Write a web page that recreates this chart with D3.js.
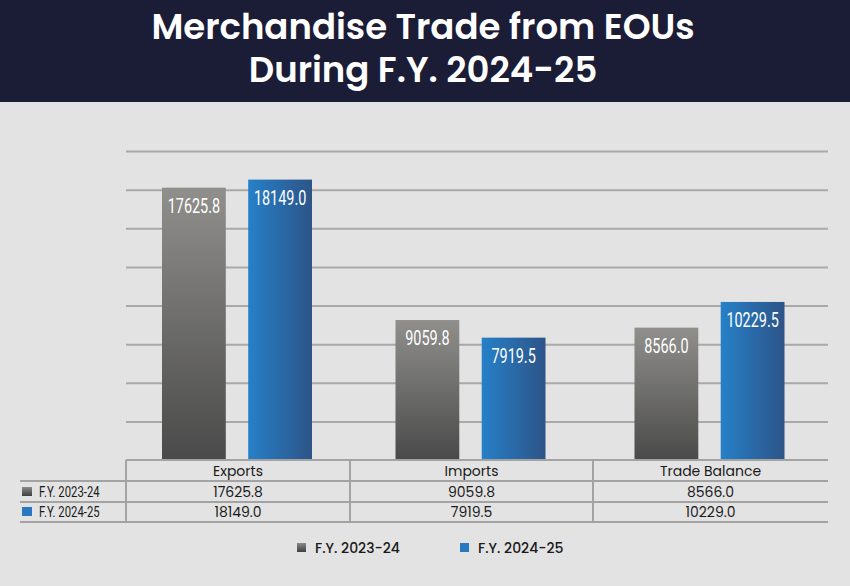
<!DOCTYPE html>
<html><head><meta charset="utf-8">
<script src="https://cdn.jsdelivr.net/npm/d3@7"></script>
<style>body{margin:0;background:#e3e3e3;} svg{display:block}</style>
</head><body><svg id="c" width="850" height="586"></svg>
<script>
const titleLines = ["Merchandise Trade from EOUs", "During F.Y. 2024-25"];
const categories = ["Exports", "Imports", "Trade Balance"];
const seriesNames = ["F.Y. 2023-24", "F.Y. 2024-25"];
const fy2023_24 = [17625.8, 9059.8, 8566.0];
const fy2024_25 = [18149.0, 7919.5, 10229.5];
const tableFy2023_24 = ["17625.8", "9059.8", "8566.0"];
const tableFy2024_25 = ["18149.0", "7919.5", "10229.0"];
const gridTicks = [2500, 5000, 7500, 10000, 12500, 15000, 17500, 20000];

const W = 850, H = 586;
const L = 126, R = 828, base = 460, plotTop = 151;
const colEdges = [126, 350, 593, 828];
const svg = d3.select("#c");
const defs = svg.append("defs");
const gg = defs.append("linearGradient").attr("id","gGray").attr("x1",0).attr("y1",0).attr("x2",0).attr("y2",1);
gg.append("stop").attr("offset","0%").attr("stop-color","#908f8c");
gg.append("stop").attr("offset","100%").attr("stop-color","#4a4a4a");
const gb = defs.append("linearGradient").attr("id","gBlue").attr("x1",0).attr("y1",0).attr("x2",1).attr("y2",0);
gb.append("stop").attr("offset","0%").attr("stop-color","#2680c8");
gb.append("stop").attr("offset","100%").attr("stop-color","#2d5488");
const sg = defs.append("linearGradient").attr("id","sGray").attr("x1",0).attr("y1",0).attr("x2",0).attr("y2",1);
sg.append("stop").attr("offset","0%").attr("stop-color","#8a8a8a");
sg.append("stop").attr("offset","100%").attr("stop-color","#3f3f3f");
const fills = ["url(#gGray)", "url(#gBlue)"];
const swatch = ["url(#sGray)", "#2a78c0"];

svg.append("rect").attr("width",W).attr("height",H).attr("fill","#e3e3e3");
svg.append("rect").attr("width",W).attr("height",102).attr("fill","#1b1c36");
const title = svg.append("text").attr("text-anchor","middle").attr("fill","#fff")
  .style("font-family","Poppins, Inter, 'Open Sans', sans-serif").style("font-weight",600).style("font-size","35.5px");
title.selectAll("tspan").data(titleLines).join("tspan")
  .attr("x",423).attr("y",(d,i)=>[38.5,81.5][i]).text(d=>d);

const y = d3.scaleLinear().domain([0,20000]).range([base, plotTop]);
const xCol = d3.scaleOrdinal().domain(categories).range(colEdges.slice(0,3));
const xColR = d3.scaleOrdinal().domain(categories).range(colEdges.slice(1));
const xc = c => (xCol(c) + xColR(c)) / 2;
const x1 = d3.scaleBand().domain(seriesNames).range([-76, 74]).paddingInner(0.26);

const grid = svg.append("g").attr("transform",`translate(${L},0)`)
  .call(d3.axisLeft(y).tickValues(gridTicks).tickSize(-(R-L)).tickFormat(""));
grid.select(".domain").remove();
grid.selectAll("line").attr("stroke","#a9a9a9").attr("stroke-width",2);

const series = [fy2023_24, fy2024_25];
const data = [];
categories.forEach((c,i)=>series.forEach((s,j)=>data.push({c, s:seriesNames[j], j, v:s[i]})));
const bars = svg.append("g");
bars.selectAll("rect").data(data).join("rect")
  .attr("x",d=>xc(d.c)+x1(d.s)).attr("width",x1.bandwidth())
  .attr("y",d=>y(d.v)).attr("height",d=>base-y(d.v)).attr("fill",d=>fills[d.j]);
bars.selectAll("text").data(data).join("text")
  .attr("transform",d=>`translate(${xc(d.c)+x1(d.s)+x1.bandwidth()/2},${y(d.v)+25}) scale(0.74,1)`)
  .attr("text-anchor","middle").attr("fill","#fff")
  .style("font-family","Roboto, sans-serif").style("font-weight",400).style("font-size","19.5px")
  .text(d=>d.v.toFixed(1));

// table
const tbl = svg.append("g");
const rowY = [460, 481, 502, 522];
const lineC = "#a3a3a3";
tbl.append("line").attr("x1",L).attr("x2",R).attr("y1",rowY[0]).attr("y2",rowY[0]).attr("stroke",lineC).attr("stroke-width",2);
[1,2,3].forEach(k=>tbl.append("line").attr("x1",20).attr("x2",R).attr("y1",rowY[k]).attr("y2",rowY[k]).attr("stroke",lineC).attr("stroke-width",2));
categories.forEach(c=>{ tbl.append("line").attr("x1",xCol(c)).attr("x2",xCol(c)).attr("y1",rowY[0]).attr("y2",rowY[3]).attr("stroke",lineC).attr("stroke-width",2); });
const tfont = "Poppins, Inter, 'Open Sans', sans-serif";
tbl.selectAll("text.h").data(categories).join("text").attr("class","h")
  .attr("x",c=>xc(c)).attr("y",476).attr("text-anchor","middle")
  .attr("fill","#1a1a1a").style("font-family",tfont).style("font-size","14px").text(d=>d);
[tableFy2023_24, tableFy2024_25].forEach((row,k)=>{
  tbl.selectAll("text.r"+k).data(row).join("text").attr("class","r"+k)
    .attr("x",(d,i)=>xc(categories[i])).attr("y",497+k*20).attr("text-anchor","middle")
    .attr("fill","#1a1a1a").style("font-family",tfont).style("font-size","14px").text(d=>d);
  tbl.append("rect").attr("x",22).attr("y",487+k*20).attr("width",10).attr("height",9).attr("fill",swatch[k]);
  tbl.append("text").attr("transform",`translate(39,${497+k*20}) scale(0.78,1)`).attr("fill","#1a1a1a")
    .style("font-family","Roboto, sans-serif").style("font-weight",400).style("font-size","14.5px").text(seriesNames[k]);
});

// legend
const lg = svg.append("g");
const lx = [297, 460];
seriesNames.forEach((s,k)=>{
  lg.append("rect").attr("x",lx[k]).attr("y",543).attr("width",9).attr("height",9).attr("fill",swatch[k]);
  lg.append("text").attr("x",lx[k]+18).attr("y",553).attr("fill","#1a1a1a")
    .style("font-family",tfont).style("font-size","14px").style("font-weight",500).text(s);
});
</script></body></html>
